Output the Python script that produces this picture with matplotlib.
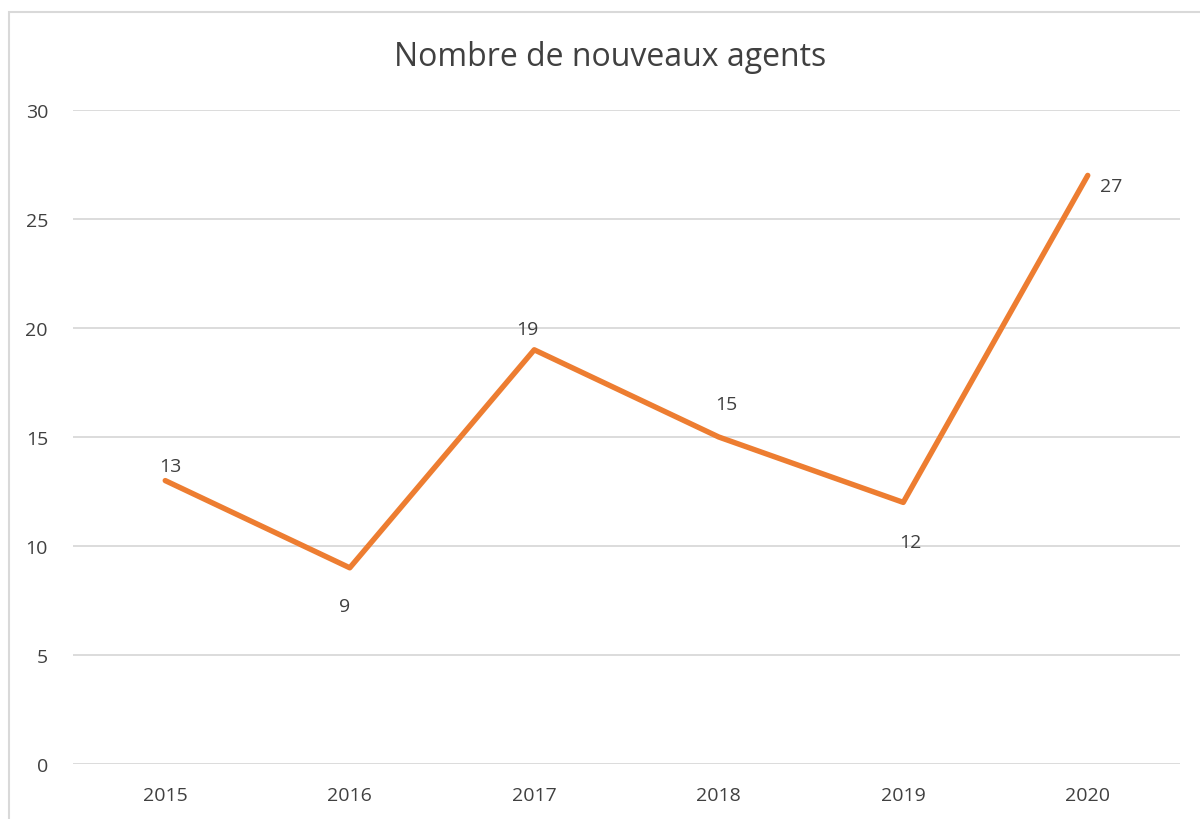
import matplotlib
matplotlib.use("Agg")
import matplotlib.pyplot as plt
from matplotlib.patches import Rectangle

# data
years = ["2015", "2016", "2017", "2018", "2019", "2020"]
agents = [13, 9, 19, 15, 12, 27]
y_ticks = [0, 5, 10, 15, 20, 25, 30]

# label offsets from the point (pixels, x right / y up)
label_offsets = [(5, 15), (-5, -38), (-7, 21), (8, 33), (7, -40), (23, -11)]

plt.rcParams['font.family'] = ['Open Sans', 'DejaVu Sans']
text_color = "#404040"
grid_color = "#d9d9d9"
line_color = "#ED7D31"

fig = plt.figure(figsize=(12, 8.2), dpi=100)
ax = fig.add_axes([73 / 1200, 55 / 820, 1107 / 1200, 654 / 820])

x = list(range(len(years)))
ax.plot(x, agents, color=line_color, linewidth=3.9, solid_capstyle="round", zorder=3)

for xi, v, (dx, dy) in zip(x, agents, label_offsets):
    ax.annotate(str(v), (xi, v), xytext=(dx * 0.72, dy * 0.72), textcoords="offset points",
                ha="center", va="center", fontsize=14, color=text_color)

ax.set_xlim(-0.5, len(years) - 0.5)
ax.set_ylim(0, 30)
ax.set_xticks(x)
ax.set_xticklabels(years)
ax.set_yticks(y_ticks)
ax.grid(axis="y", color=grid_color, linewidth=1.3)
ax.set_axisbelow(True)
for s in ax.spines.values():
    s.set_visible(False)
ax.tick_params(length=0, labelsize=14, labelcolor=text_color)
ax.tick_params(axis="y", pad=18)
ax.tick_params(axis="x", pad=16)

fig.text(610 / 1200, 1 - 57 / 820, "Nombre de nouveaux agents", ha="center", va="center",
         fontsize=23, color=text_color)

fig.patches.append(Rectangle((9 / 1200, -0.05), 1.2, 1 - 13 / 820 + 0.05,
                             transform=fig.transFigure, fill=False,
                             edgecolor=grid_color, linewidth=1.5))

fig.savefig("out.png", dpi=100)
